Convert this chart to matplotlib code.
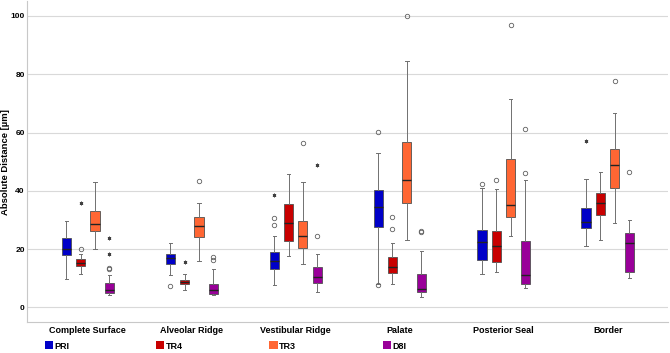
import matplotlib.pyplot as plt
from matplotlib.patches import Patch

plt.rcParams['font.family'] = ['Liberation Sans', 'DejaVu Sans']
plt.rcParams['font.weight'] = 'bold'

categories = ['Complete Surface', 'Alveolar Ridge', 'Vestibular Ridge',
              'Palate', 'Posterior Seal', 'Border']
series = ['PRI', 'TR4', 'TR3', 'D8I']
colors = ['#0000C8', '#C80000', '#FF6633', '#990099']

# rows follow `series`, columns follow `categories`
whislo = [[9.8, 11.0, 7.8, 8.1, 11.6, 21.0],
          [11.6, 6.0, 17.6, 8.1, 12.0, 23.1],
          [20.0, 16.0, 14.8, 23.2, 24.6, 29.0],
          [4.2, 4.2, 5.3, 3.6, 6.7, 10.0]]
q1 = [[18.0, 15.0, 13.2, 27.6, 16.3, 27.2],
      [14.1, 7.9, 22.9, 11.7, 15.7, 31.8],
      [26.2, 24.2, 20.3, 35.9, 30.9, 41.1],
      [5.0, 4.6, 8.4, 5.3, 7.9, 12.3]]
med = [[20.0, 16.8, 15.8, 34.4, 22.3, 29.2],
       [15.1, 8.7, 28.9, 13.7, 21.1, 35.7],
       [28.7, 28.0, 24.4, 43.7, 35.1, 49.0],
       [5.9, 5.9, 10.4, 6.2, 11.0, 22.0]]
q3 = [[23.8, 18.2, 19.1, 40.4, 26.6, 34.1],
      [16.5, 9.4, 35.4, 17.4, 26.1, 39.4],
      [33.1, 30.9, 29.6, 56.7, 50.9, 54.4],
      [8.2, 8.1, 13.9, 11.6, 22.8, 25.6]]
whishi = [[29.7, 22.1, 24.4, 53.0, 40.8, 43.9],
          [18.3, 11.6, 45.7, 22.2, 40.6, 46.4],
          [43.0, 35.7, 43.0, 84.6, 71.5, 66.8],
          [11.0, 13.2, 18.2, 19.5, 43.6, 29.9]]
outliers = [[[], [7.5], [30.7, 28.1], [60.1, 7.8], [42.4], []],
            [[20.0], [], [], [31.1, 26.9], [43.6], []],
            [[], [43.2], [56.4], [100.1], [96.9], [77.7]],
            [[13.1, 13.5], [17.2, 16.1], [24.4], [25.7, 26.1], [61.3, 46.0], [46.6]]]
extremes = [[[], [], [38.5], [], [], [57.0]],
            [[35.8], [15.4], [], [], [], []],
            [[], [], [], [], [], []],
            [[23.7, 18.3], [], [48.9], [], [], []]]

fig = plt.figure(figsize=(6.7, 3.53), dpi=100)
ax = fig.add_axes([0.041, 0.088, 0.956, 0.908])

step = 0.139
for s, name in enumerate(series):
    pos = [c + (s - 1.5) * step for c in range(len(categories))]
    stats = []
    for c in range(len(categories)):
        stats.append(dict(whislo=whislo[s][c], q1=q1[s][c], med=med[s][c],
                          q3=q3[s][c], whishi=whishi[s][c], fliers=outliers[s][c]))
    ax.bxp(stats, positions=pos, widths=0.087, patch_artist=True,
           boxprops=dict(facecolor=colors[s], edgecolor='#505050', linewidth=0.6),
           medianprops=dict(color='#222222', linewidth=1.0),
           whiskerprops=dict(color='#707070', linewidth=0.7),
           capprops=dict(color='#707070', linewidth=0.7),
           capwidths=0.03,
           flierprops=dict(marker='o', markersize=3.2, markerfacecolor='none',
                           markeredgecolor='#606060', markeredgewidth=0.6),
           manage_ticks=False, zorder=3)
    for c in range(len(categories)):
        ys = extremes[s][c]
        ax.plot([pos[c]] * len(ys), ys, linestyle='none', marker=(6, 2, 0),
                markersize=2.6, color='#404040', markeredgewidth=0.6, zorder=4)

ax.set_xlim(-0.58, 5.58)
ax.set_ylim(-5, 105)
ax.set_yticks([0, 20, 40, 60, 80, 100])
ax.set_xticks(range(len(categories)))
ax.set_xticklabels(categories, fontsize=6.5, fontweight='bold')
ax.tick_params(axis='y', length=0, labelsize=6.0, pad=2)
ax.tick_params(axis='x', length=0, pad=3)
ax.grid(axis='y', color='#d9d9d9', linewidth=0.8, zorder=0)
ax.set_axisbelow(True)
for side in ['top', 'right']:
    ax.spines[side].set_visible(False)
for side in ['left', 'bottom']:
    ax.spines[side].set_color('#c8c8c8')
    ax.spines[side].set_linewidth(0.8)
ax.set_ylabel('Absolute Distance [µm]', fontsize=6.8, fontweight='bold')
ax.yaxis.set_label_coords(-0.027, 0.5)

handles = [Patch(facecolor=colors[i], edgecolor='none', label=series[i])
           for i in range(len(series))]
fig.legend(handles=handles, loc='center left', bbox_to_anchor=(0.062, 0.02),
           ncol=4, frameon=False, fontsize=6.5, handlelength=0.9, handleheight=1.0,
           handletextpad=0.15, columnspacing=9.6, borderaxespad=0)

fig.savefig('out.png', dpi=100)
